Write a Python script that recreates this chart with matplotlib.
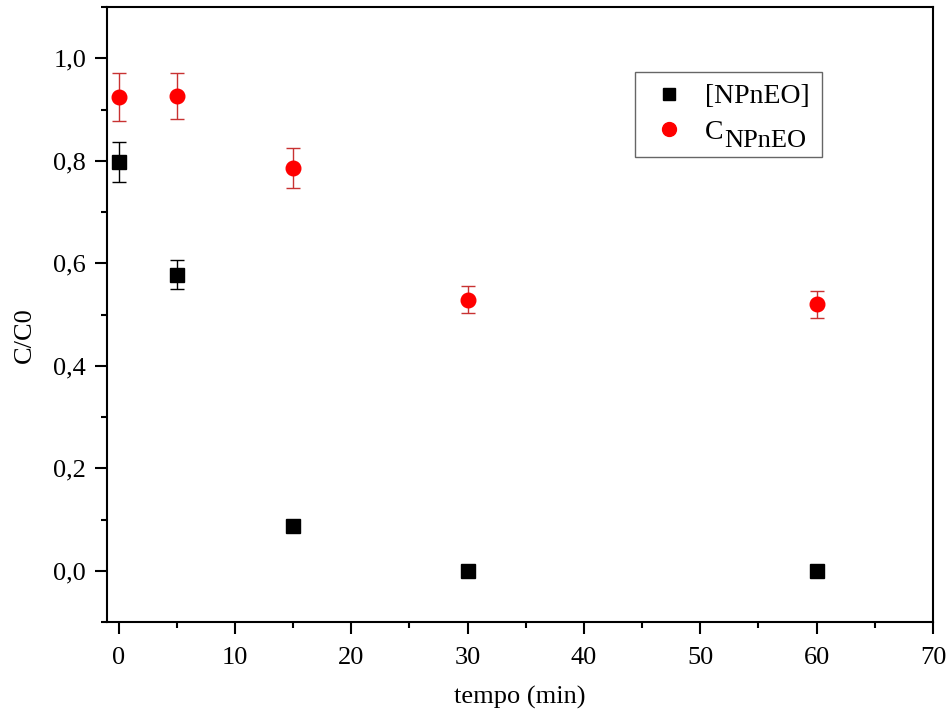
import numpy as np
import matplotlib.pyplot as plt
from matplotlib.lines import Line2D
from matplotlib.ticker import MultipleLocator, FuncFormatter

plt.rcParams['font.family'] = ['Liberation Serif', 'DejaVu Serif']

# sampling times (min)
tempo = [0, 5, 15, 30, 60]

# [NPnEO] normalised concentration and its error
npneo = [0.798, 0.578, 0.088, 0.0, 0.0]
npneo_err = [0.039, 0.028, 0.0, 0.0, 0.0]

# C_NPnEO normalised concentration and its error
c_npneo = [0.925, 0.927, 0.787, 0.529, 0.520]
c_npneo_err = [0.047, 0.045, 0.039, 0.026, 0.026]

fig = plt.figure(figsize=(9.5, 7.22), dpi=100)
ax = fig.add_axes([0.1126, 0.1385, 0.8695, 0.8515])

ax.errorbar(tempo, npneo, yerr=npneo_err, fmt='s', color='black',
            ecolor='black', elinewidth=1.0, capsize=5, capthick=1.0,
            markersize=9.5)
ax.errorbar(tempo, c_npneo, yerr=c_npneo_err, fmt='o', color='#ff0000',
            ecolor='#c83232', elinewidth=1.0, capsize=5, capthick=1.0,
            markersize=10.5)

ax.set_xlim(-1, 70)
ax.set_ylim(-0.1, 1.1)

ax.xaxis.set_major_locator(MultipleLocator(10))
ax.xaxis.set_minor_locator(MultipleLocator(5))
ax.yaxis.set_major_locator(MultipleLocator(0.2))
ax.yaxis.set_minor_locator(MultipleLocator(0.1))
ax.yaxis.set_major_formatter(FuncFormatter(lambda v, p: f'{v:.1f}'.replace('.', ',').replace('-0,0', '0,0')))

ax.tick_params(which='both', direction='out', top=False, right=False,
               labelsize=19, width=1.5)
ax.tick_params(which='major', length=8.5)
ax.tick_params(which='minor', length=4.5)
ax.tick_params(axis='x', which='major', pad=9.5)
ax.tick_params(axis='y', which='major', pad=6.5)
for sp in ax.spines.values():
    sp.set_linewidth(1.5)

ax.set_xlabel('tempo (min)', fontsize=19, labelpad=12.5)
ax.set_ylabel('C/C0', fontsize=19, labelpad=12.5)
ax.yaxis.label.set_y(0.466)

# legend shows markers only; the subscript is added next to the "C"
handles = [Line2D([], [], ls='none', marker='s', color='black', markersize=9),
           Line2D([], [], ls='none', marker='o', color='#ff0000', markersize=10)]
leg = ax.legend(handles, ['[NPnEO]', 'C'], loc='upper right',
                bbox_to_anchor=(0.883, 0.918),
                fontsize=20, frameon=True, fancybox=False, shadow=False,
                handletextpad=0.5, borderpad=0.45, labelspacing=0.35,
                handlelength=1.6)
leg.get_frame().set_edgecolor('#404040')
leg.get_frame().set_linewidth(1.0)

c_text = leg.get_texts()[1]
ax.annotate('NPnEO', xy=(1, 0), xycoords=c_text, xytext=(0, -5),
            textcoords='offset points', ha='left', va='bottom', fontsize=19,
            zorder=10)

fig.savefig('out.png', dpi=100)
